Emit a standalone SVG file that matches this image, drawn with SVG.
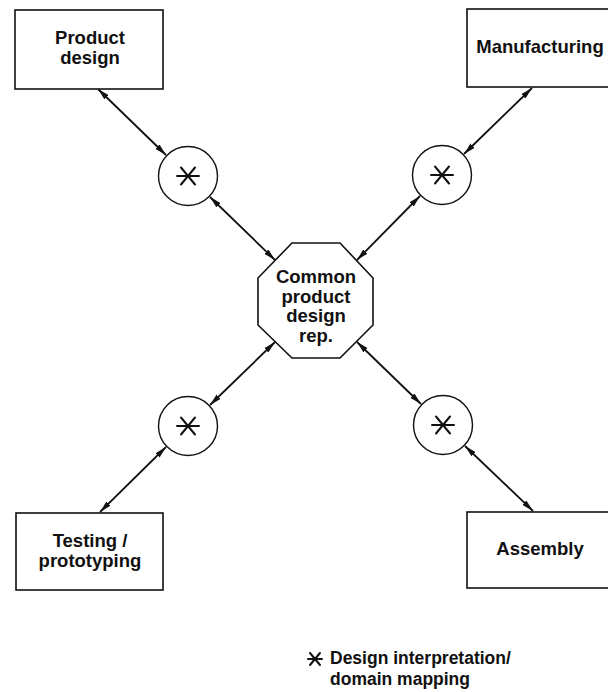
<svg xmlns="http://www.w3.org/2000/svg" xmlns:xlink="http://www.w3.org/1999/xlink" width="608" height="692" viewBox="0 0 608 692">
<style>
  .box { fill: #fff; stroke: #111; stroke-width: 1.6; }
  .circ { fill: #fff; stroke: #111; stroke-width: 1.4; }
  .lbl { font-family: "Liberation Sans", Arial, Helvetica, sans-serif; font-weight: bold; font-size: 18.5px; fill: #111; text-anchor: middle; }
  .leg { font-family: "Liberation Sans", Arial, Helvetica, sans-serif; font-weight: bold; font-size: 17.5px; fill: #111; }
  .conn { stroke: #111; stroke-width: 1.8; fill: none; marker-start: url(#arr); marker-end: url(#arr); }
  .star { stroke: #111; stroke-width: 2; fill: none; stroke-linecap: round; }
</style>
<defs>
  <marker id="arr" viewBox="0 0 12 6" refX="12" refY="3" markerWidth="12" markerHeight="6" markerUnits="userSpaceOnUse" orient="auto-start-reverse">
    <path d="M0,0 L12,3 L0,6 z" fill="#111"/>
  </marker>
  <g id="ast">
    <path class="star" d="M-11,0 H11 M-7,-8.5 L7,8.5 M7,-8.5 L-7,8.5"/>
  </g>
</defs>
<rect width="608" height="692" fill="#fff"/>

<g id="connectors">
  <line class="conn" x1="98" y1="89" x2="166" y2="155"/>
  <line class="conn" x1="210" y1="197" x2="275" y2="260"/>
  <line class="conn" x1="532" y1="88" x2="464" y2="154"/>
  <line class="conn" x1="420" y1="196" x2="357" y2="260"/>
  <line class="conn" x1="275" y1="342" x2="210" y2="405"/>
  <line class="conn" x1="166" y1="447" x2="100" y2="512"/>
  <line class="conn" x1="357" y1="342" x2="421" y2="404"/>
  <line class="conn" x1="465" y1="446" x2="533" y2="511"/>
</g>

<g id="product-design">
  <rect class="box" x="15" y="10" width="148" height="79"/>
  <text class="lbl" x="90" y="44">Product</text>
  <text class="lbl" x="90" y="64">design</text>
</g>
<g id="manufacturing">
  <rect class="box" x="467" y="9" width="150" height="78"/>
  <text class="lbl" x="540" y="53">Manufacturing</text>
</g>
<g id="testing">
  <rect class="box" x="16" y="513" width="147" height="77"/>
  <text class="lbl" x="90" y="547">Testing /</text>
  <text class="lbl" x="90" y="567">prototyping</text>
</g>
<g id="assembly">
  <rect class="box" x="467" y="512" width="150" height="76"/>
  <text class="lbl" x="540" y="555">Assembly</text>
</g>

<g id="common-rep">
  <polygon class="box" points="292,243 340,243 373,278 373,325 340,358 292,358 258,325 258,278"/>
  <text class="lbl" x="316" y="283">Common</text>
  <text class="lbl" x="316" y="303">product</text>
  <text class="lbl" x="316" y="322">design</text>
  <text class="lbl" x="316" y="342">rep.</text>
</g>

<g id="map-tl">
  <circle class="circ" cx="188" cy="176" r="29.5"/>
  <use xlink:href="#ast" x="188" y="176"/>
</g>
<g id="map-tr">
  <circle class="circ" cx="442" cy="175" r="29.5"/>
  <use xlink:href="#ast" x="442" y="175"/>
</g>
<g id="map-bl">
  <circle class="circ" cx="188" cy="426" r="29.5"/>
  <use xlink:href="#ast" x="188" y="426"/>
</g>
<g id="map-br">
  <circle class="circ" cx="443" cy="425" r="29.5"/>
  <use xlink:href="#ast" x="443" y="425"/>
</g>

<g id="legend">
  <path class="star" d="M308,659 H322 M310,653 L320,665 M320,653 L310,665"/>
  <text class="leg" x="330" y="664">Design interpretation/</text>
  <text class="leg" x="330" y="685">domain mapping</text>
</g>
</svg>
